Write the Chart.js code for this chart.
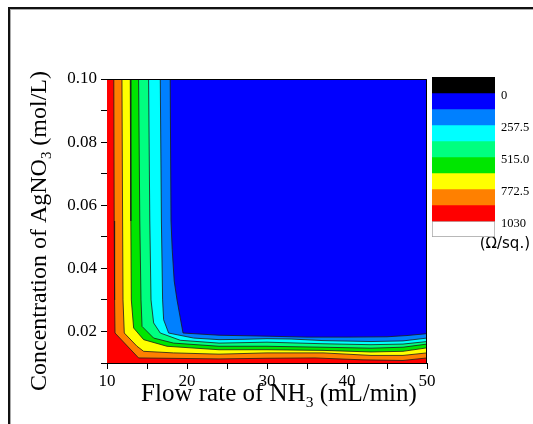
<!DOCTYPE html>
<html>
<head>
<meta charset="utf-8">
<script src="https://cdn.jsdelivr.net/npm/chart.js@4.4.1/dist/chart.umd.min.js"></script>
<style>
  body { margin: 0; background: #fff; }
  #wrap { position: relative; width: 533px; height: 424px; overflow: hidden; }
  #frame { position: absolute; left: 8px; top: 7px; width: 600px; height: 500px;
           border-top: 2px solid #111; border-left: 2px solid #111; box-shadow: inset 1px 1px 0 #aaa; }
  #main { position: absolute; left: 0; top: 0; }
  #bar { position: absolute; left: 430px; top: 70px; }
</style>
</head>
<body>
<div id="wrap">
  <div id="frame"></div>
  <canvas id="main" width="533" height="424"></canvas>
  <canvas id="bar" width="103" height="190"></canvas>
</div>
<script>
// axis ranges
var flowMin = 10, flowMax = 50;
var concMin = 0.01, concMax = 0.10;

// colour bands of the map (sheet resistance, ohm/sq), low to high
var bandEdges = [-128.75, 0, 128.75, 257.5, 386.25, 515, 643.75, 772.5, 901.25, 1030, 1158.75];
var bandColors = ['#000000', '#0000ff', '#0080ff', '#00ffff', '#00ff80', '#00e600',
                  '#ffff00', '#ff8000', '#ff0000', '#ffffff'];
var barTicks = [0, 257.5, 515, 772.5, 1030];
var barTickLabels = ['0', '257.5', '515.0', '772.5', '1030'];

// contour lines: flow rate (x) and AgNO3 concentration (y)
var c129x = [10, 17.9, 18.0, 18.15, 18.4, 18.75, 19.5, 24, 30, 35, 40, 45, 47.5, 50];
var c129y = [0.10, 0.10, 0.055, 0.046, 0.036, 0.030, 0.0195, 0.0188, 0.0185, 0.0182, 0.0182, 0.0183, 0.0187, 0.0193];
var c258x = [10, 16.66, 16.8, 16.95, 17.08, 17.7, 20.83, 24, 27, 30, 33, 37, 43, 47, 50];
var c258y = [0.10, 0.10, 0.055, 0.030, 0.0237, 0.0195, 0.0179, 0.0174, 0.0175, 0.0177, 0.0176, 0.0171, 0.0168, 0.0170, 0.0179];
var c386x = [10, 15.2, 15.35, 15.5, 15.83, 16.66, 19.16, 24, 30, 37, 43, 47, 50];
var c386y = [0.10, 0.10, 0.055, 0.030, 0.0227, 0.0195, 0.0172, 0.0163, 0.0166, 0.0161, 0.0158, 0.0160, 0.0168];
var c515x = [10, 13.95, 14.1, 14.25, 14.38, 15.83, 18.33, 24, 30, 37, 43, 47, 50];
var c515y = [0.10, 0.10, 0.055, 0.030, 0.0216, 0.0179, 0.0163, 0.0153, 0.0153, 0.0150, 0.0147, 0.0150, 0.0160];
var c644x = [10, 12.91, 12.98, 13.04, 13.33, 14.58, 17.5, 24, 30, 37, 43, 47, 50];
var c644y = [0.10, 0.10, 0.055, 0.030, 0.0211, 0.0174, 0.0153, 0.0142, 0.0142, 0.0140, 0.0135, 0.0137, 0.0148];
var c773x = [10, 11.87, 11.95, 12.0, 12.16, 13.75, 14.58, 18.33, 24, 30, 37, 43, 47, 50];
var c773y = [0.10, 0.10, 0.055, 0.030, 0.0195, 0.0153, 0.0137, 0.0132, 0.0128, 0.0132, 0.0132, 0.0124, 0.0124, 0.0132];
var c901x = [10, 10.85, 10.9, 10.95, 11.0, 13.95, 24, 30, 36, 42, 47, 50];
var c901y = [0.10, 0.10, 0.055, 0.030, 0.0195, 0.0116, 0.0113, 0.0115, 0.0116, 0.0110, 0.0108, 0.0116];

var contours = [[c129x, c129y], [c258x, c258y], [c386x, c386y], [c515x, c515y],
                [c644x, c644y], [c773x, c773y], [c901x, c901y]];

var yTitle = ['Concentration of AgNO', '3', ' (mol/L)'];
var xTitle = ['Flow rate of NH', '3', ' (mL/min)'];

function pts(xs, ys) {
    return xs.map(function (x, i) { return {x: x, y: ys[i]}; });
}

// every odd part is a subscript
function drawSubText(ctx, parts, cx, y, size) {
    var w = 0, widths = [];
    parts.forEach(function (t, i) {
        ctx.font = (i % 2 ? size * 0.62 : size) + 'px "Liberation Serif"';
        widths[i] = ctx.measureText(t).width;
        w += widths[i];
    });
    var x = cx - w / 2;
    ctx.textAlign = 'left';
    ctx.textBaseline = 'alphabetic';
    parts.forEach(function (t, i) {
        ctx.font = (i % 2 ? size * 0.62 : size) + 'px "Liberation Serif"';
        ctx.fillText(t, x, y + (i % 2 ? size * 0.22 : 0));
        x += widths[i];
    });
}

var frameTitles = {
    id: 'frameTitles',
    afterDraw: function (chart) {
        var ctx = chart.ctx, a = chart.chartArea;
        ctx.save();
        ctx.strokeStyle = '#000';
        ctx.lineWidth = 1;
        ctx.beginPath();
        ctx.moveTo(Math.round(a.left), Math.round(a.top) + 0.5);
        ctx.lineTo(Math.round(a.right) - 0.5, Math.round(a.top) + 0.5);
        ctx.lineTo(Math.round(a.right) - 0.5, Math.round(a.bottom));
        ctx.stroke();
        ctx.fillStyle = '#000';
        drawSubText(ctx, xTitle, 279, 401, 25);
        ctx.translate(46, 231);
        ctx.rotate(-Math.PI / 2);
        drawSubText(ctx, yTitle, 0, 0, 24);
        ctx.restore();
    }
};

var datasets = [];
datasets.push({
    data: pts([flowMin, flowMax], [concMax, concMax]),
    backgroundColor: bandColors[1], fill: 'start', borderWidth: 0, pointRadius: 0
});
contours.forEach(function (c, i) {
    datasets.unshift({
        data: pts(c[0], c[1]),
        backgroundColor: bandColors[i + 2],
        fill: 'start',
        borderColor: '#1a1a1a',
        borderWidth: 0.8,
        pointRadius: 0,
        tension: 0
    });
});

var tickFont = {family: 'Liberation Serif', size: 17};

new Chart(document.getElementById('main').getContext('2d'), {
    type: 'line',
    data: {datasets: datasets},
    options: {
        responsive: false,
        animation: false,
        layout: {padding: {left: 0, top: 79, right: 106, bottom: 0}},
        plugins: {legend: {display: false}, tooltip: {enabled: false}},
        scales: {
            x: {
                type: 'linear', min: flowMin, max: flowMax,
                ticks: {
                    stepSize: 5, autoSkip: false, maxRotation: 0, padding: 2,
                    color: '#000', font: tickFont,
                    callback: function (v) { return v % 10 === 0 ? v : ''; }
                },
                grid: {drawOnChartArea: false, tickLength: 6, color: '#000'},
                border: {color: '#000', width: 1},
                afterFit: function (s) { s.height = 61; }
            },
            y: {
                type: 'linear', min: concMin, max: concMax,
                ticks: {
                    stepSize: 0.01, autoSkip: false, padding: 4,
                    color: '#000', font: tickFont,
                    callback: function (v) { return Math.round(v * 100) % 2 === 0 ? v.toFixed(2) : ''; }
                },
                grid: {drawOnChartArea: false, tickLength: 6, color: '#000'},
                border: {color: '#000', width: 1},
                afterFit: function (s) { s.width = 107; }
            }
        }
    },
    plugins: [frameTitles]
});

// colour scale
var barSets = [];
for (var i = 0; i < bandColors.length; i++) {
    barSets.push({
        data: [[bandEdges[i], bandEdges[i + 1]]],
        backgroundColor: bandColors[i],
        borderColor: i === bandColors.length - 1 ? '#a0a0a0' : bandColors[i],
        borderWidth: i === bandColors.length - 1 ? 1 : 0,
        borderSkipped: false,
        grouped: false,
        barPercentage: 1,
        categoryPercentage: 1
    });
}

new Chart(document.getElementById('bar').getContext('2d'), {
    type: 'bar',
    data: {labels: [''], datasets: barSets},
    options: {
        responsive: false,
        animation: false,
        layout: {padding: {left: 2, right: 3, top: 7, bottom: 8}},
        plugins: {
            legend: {display: false},
            tooltip: {enabled: false},
            title: {
                display: true, text: '(\u03a9/sq.)', position: 'bottom', align: 'end',
                color: '#000', padding: 0,
                font: {family: 'DejaVu Sans', size: 15, weight: 'normal', lineHeight: 1}
            }
        },
        scales: {
            x: {display: false},
            y: {
                position: 'right', reverse: true,
                min: bandEdges[0], max: bandEdges[bandEdges.length - 1],
                afterBuildTicks: function (s) {
                    s.ticks = barTicks.map(function (v) { return {value: v}; });
                },
                ticks: {
                    autoSkip: false, padding: 6, labelOffset: 3, color: '#000',
                    font: {family: 'Liberation Serif', size: 12.5},
                    callback: function (v, i) { return barTickLabels[i]; }
                },
                grid: {display: false, drawTicks: false},
                border: {display: false},
                afterFit: function (s) { s.width = 35; s.paddingTop = 0; s.paddingBottom = 0; }
            }
        }
    }
});
</script>
</body>
</html>
